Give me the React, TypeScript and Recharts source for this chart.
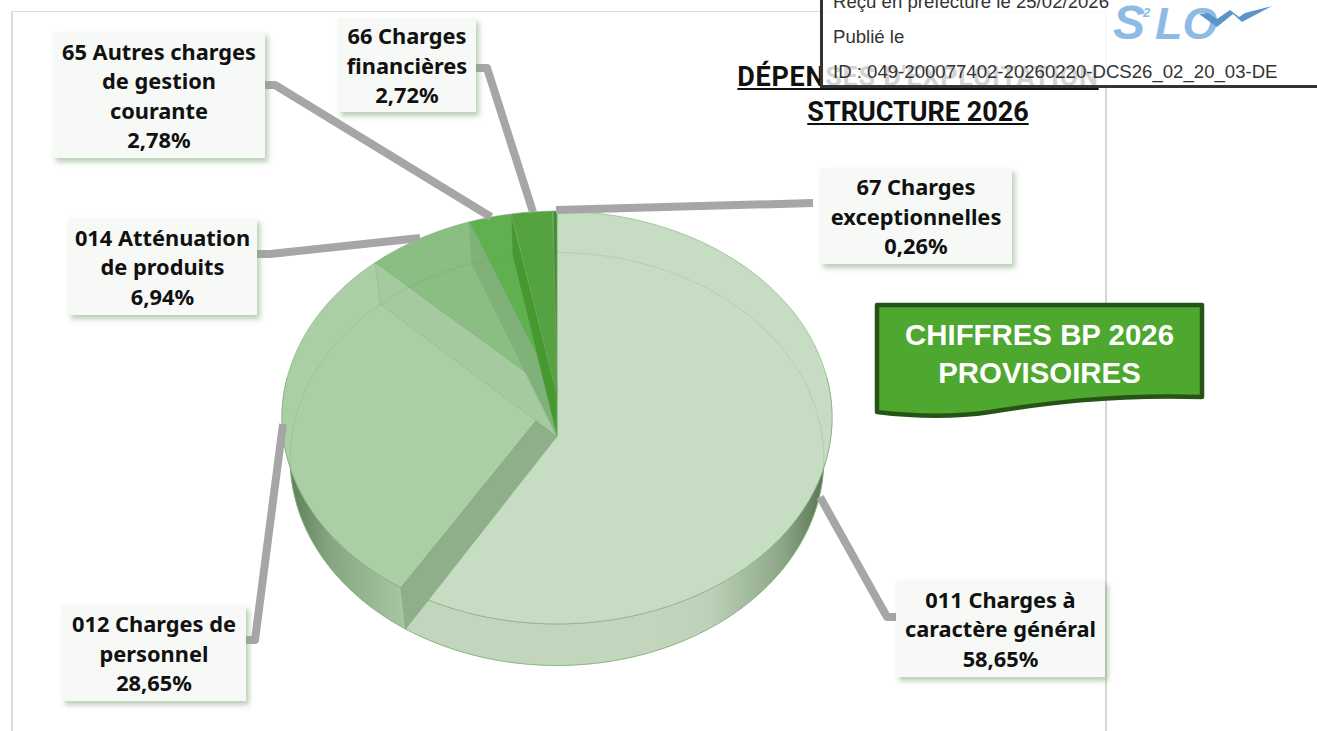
import React from "react";
import { PieChart, Pie } from "recharts";

const categoryNames = [
  ["011 Charges à", "caractère général"],
  ["012 Charges de", "personnel"],
  ["014 Atténuation", "de produits"],
  ["65 Autres charges", "de gestion", "courante"],
  ["66 Charges", "financières"],
  ["67 Charges", "exceptionnelles"],
];
const seriesValues = [58.65, 28.65, 6.94, 2.78, 2.72, 0.26];
const faceColors = ["#c6dcc3", "#abcea6", "#8abe82", "#60b04f", "#55a240", "#3f8f2b"];
const radialWallColors = ["#8fae8a", "#a5caa0", "#7fb278", "#47992f", "#3f8f2b", "#3f8f2b"];
const outerWallFills = ["url(#wall011)", "url(#wall012)", "#7fa87a", "#5c9a4c", "#4e8f3c", "#3d8a2c"];
const chartData = categoryNames.map((lines, i) => ({ name: lines.join(" "), value: seriesValues[i] }));

const labelBoxes = [
  { left: 896, top: 580, width: 209, height: 97 },
  { left: 62, top: 605, width: 184, height: 96 },
  { left: 68, top: 218, width: 189, height: 97 },
  { left: 53, top: 32, width: 212, height: 126 },
  { left: 338, top: 18, width: 138, height: 94 },
  { left: 820, top: 168, width: 192, height: 96 },
];
const leaderLines = [
  "820,497 887,617 896,617",
  "283,424 255,640 246,640",
  "257,254 270,254 420,238",
  "265,85 275,85 491,217",
  "476,68 487,68 533,212",
  "813,203 556,210",
];

const CENTER_X = 557;
const CENTER_Y = 395;
const RADIUS = 273.4;
const DEPTH = 41.5;
const PERSPECTIVE = 0.109;
const TILT = 0.746;
const BOTTOM_NARROW = 0.97;

function project(cx: number, cy: number, r: number, theta: number, drop = 0) {
  const t = (theta * Math.PI) / 180;
  const u = Math.sin(t);
  const v = Math.cos(t);
  const d = 1 + PERSPECTIVE * v;
  const k = drop ? BOTTOM_NARROW : 1;
  return [cx + (k * r * u) / d, cy + drop - (r * TILT * v) / d];
}
function arc(cx: number, cy: number, r: number, a: number, b: number, drop = 0) {
  const n = Math.max(2, Math.ceil(Math.abs(b - a)));
  const pts: string[] = [];
  for (let i = 0; i <= n; i++) {
    const p = project(cx, cy, r, a + ((b - a) * i) / n, drop);
    pts.push(`${p[0].toFixed(2)},${p[1].toFixed(2)}`);
  }
  return pts;
}
const thetas = (p: any) => [90 - p.startAngle, 90 - p.endAngle];

function BottomShape(p: any) {
  const [a, b] = thetas(p);
  const d = `M${p.cx},${p.cy + DEPTH}L${arc(p.cx, p.cy, p.outerRadius, a, b, DEPTH).join("L")}Z`;
  return <path d={d} fill={faceColors[p.index]} stroke="#7fae78" strokeWidth={0.6} />;
}
function WallShape(p: any) {
  const [a0, b0] = thetas(p);
  const a = Math.max(a0, 85);
  const b = Math.min(b0, 275);
  if (b <= a) return <g />;
  const top = arc(p.cx, p.cy, p.outerRadius, a, b);
  const low = arc(p.cx, p.cy, p.outerRadius, b, a, DEPTH);
  return <path d={`M${top.join("L")}L${low.join("L")}Z`} fill={outerWallFills[p.index]} stroke="#86b27f" strokeWidth={0.8} />;
}
function TopShape(p: any) {
  const [a, b] = thetas(p);
  const d = `M${p.cx},${p.cy}L${arc(p.cx, p.cy, p.outerRadius, a, b).join("L")}Z`;
  return <path d={d} fill={faceColors[p.index]} stroke="#7fae78" strokeOpacity={0.75} strokeWidth={0.8} />;
}
function StripShape(p: any) {
  const [, b] = thetas(p);
  if (b >= 359.99) return <g />;
  const rim = project(p.cx, p.cy, p.outerRadius, b);
  const low = project(p.cx, p.cy, p.outerRadius, b, DEPTH);
  const d = `M${p.cx},${p.cy}L${rim[0]},${rim[1]}L${low[0]},${low[1]}L${p.cx},${p.cy + DEPTH}Z`;
  return <path d={d} fill={radialWallColors[p.index]} stroke="#7fae78" strokeOpacity={0.6} strokeWidth={0.6} />;
}
function InnerArcShape(p: any) {
  const [a, b] = thetas(p);
  const pts = arc(p.cx, p.cy, p.outerRadius, a, b, DEPTH).filter((s) => {
    const y = Number(s.split(",")[1]);
    return y < p.cy + DEPTH + 50;
  });
  return <path d={`M${pts.join("L")}`} fill="none" stroke="#4f8f45" strokeOpacity={0.2} strokeWidth={0.8} />;
}

const layers = [BottomShape, WallShape, TopShape, StripShape, InnerArcShape];

const labelFont = "'Noto Sans', sans-serif";
const pct = (v: number) => v.toFixed(2).replace(".", ",") + "%";

export default function App() {
  return (
    <div style={{ position: "absolute", left: 0, top: 0, width: 1317, height: 731, overflow: "hidden", background: "#fff" }}>
      <div style={{ position: "absolute", left: 11, top: 11, width: 1092, height: 730, borderLeft: "2px solid #dcdcdc", borderTop: "1px solid #dcdcdc", borderRight: "2px solid #d6d6d6" }} />
      <PieChart width={1317} height={731} style={{ position: "absolute", left: 0, top: 0 }} margin={{ top: 0, right: 0, bottom: 0, left: 0 }}>
        <defs>
          <linearGradient id="wall011" gradientUnits="userSpaceOnUse" x1="826" y1="0" x2="660" y2="0">
            <stop offset="0" stopColor="#56714f" />
            <stop offset="0.25" stopColor="#8aa585" />
            <stop offset="0.7" stopColor="#bdd2b9" />
            <stop offset="1" stopColor="#c2d6be" />
          </linearGradient>
          <linearGradient id="wall012" gradientUnits="userSpaceOnUse" x1="290" y1="0" x2="410" y2="0">
            <stop offset="0" stopColor="#5f7f5b" />
            <stop offset="0.35" stopColor="#86a782" />
            <stop offset="1" stopColor="#a9c9a4" />
          </linearGradient>
        </defs>
        {layers.map((Layer, i) => (
          <Pie
            key={i}
            data={chartData}
            dataKey="value"
            nameKey="name"
            cx={CENTER_X}
            cy={CENTER_Y}
            innerRadius={0}
            outerRadius={RADIUS}
            startAngle={90}
            endAngle={-270}
            paddingAngle={0}
            stroke="none"
            isAnimationActive={false}
            shape={(props: any, index: number) => <Layer {...props} index={index} />}
          />
        ))}
      </PieChart>

      <svg width={1317} height={731} style={{ position: "absolute", left: 0, top: 0, pointerEvents: "none" }}>
        {leaderLines.map((pts, i) => (
          <polyline key={i} points={pts} fill="none" stroke="#a6a6a6" strokeWidth={8} strokeLinejoin="round" />
        ))}
        <path d="M877,305 H1202 V397 C1110,394 1040,404 990,412 C950,418 910,416 877,412 Z" fill="#4ea72e" stroke="#275317" strokeWidth={4.5} strokeLinejoin="round" />
      </svg>

      {labelBoxes.map((b, i) => (
        <div
          key={i}
          style={{
            position: "absolute",
            ...b,
            background: "#f6f9f5",
            boxShadow: "3px 4px 5px rgba(130,170,120,0.55)",
            display: "flex",
            flexDirection: "column",
            alignItems: "center",
            justifyContent: "center",
            fontFamily: labelFont,
            fontWeight: 700,
            fontSize: 21.8,
            lineHeight: "29.5px",
            color: "#111",
            whiteSpace: "nowrap",
            paddingTop: 1,
            boxSizing: "border-box",
          }}
        >
          {categoryNames[i].map((line) => (
            <div key={line}>{line}</div>
          ))}
          <div>{pct(seriesValues[i])}</div>
        </div>
      ))}

      <div style={{ position: "absolute", left: 876, top: 316, width: 327, textAlign: "center", color: "#fff", fontFamily: "'Liberation Sans', sans-serif", fontWeight: 700, fontSize: 29.4, lineHeight: "38px" }}>
        <div>CHIFFRES BP 2026</div>
        <div>PROVISOIRES</div>
      </div>

      <div style={{ position: "absolute", left: 718, top: 60, width: 400, textAlign: "center", fontFamily: "Roboto, sans-serif", fontWeight: 700, fontSize: 27, lineHeight: "35px", color: "#111", textDecoration: "underline" }}>
        <div style={{ letterSpacing: 0.7, whiteSpace: "nowrap" }}>DÉPENSES D'EXPLOITATION</div>
        <div>STRUCTURE 2026</div>
      </div>

      <div style={{ position: "absolute", left: 820, top: -10, width: 500, height: 98, boxSizing: "border-box", borderLeft: "3px solid #333", borderBottom: "3px solid #333", background: "rgba(255,255,255,0.82)", fontFamily: "'Liberation Sans', sans-serif", fontSize: 18.6, color: "#333" }}>
        <div style={{ position: "absolute", left: 10, top: 1, whiteSpace: "nowrap" }}>Reçu en préfecture le 25/02/2026</div>
        <div style={{ position: "absolute", left: 10, top: 36, whiteSpace: "nowrap" }}>Publié le</div>
        <div style={{ position: "absolute", left: 10, top: 71, whiteSpace: "nowrap" }}>ID : 049-200077402-20260220-DCS26_02_20_03-DE</div>
      </div>

      <svg width={180} height={50} style={{ position: "absolute", left: 1105, top: 0 }}>
        <text x={8} y={39} fontFamily="'Liberation Sans', sans-serif" fontStyle="italic" fontWeight={700} fontSize={48} fill="#8dbbe6">S</text>
        <text x={38} y={17} fontFamily="'Liberation Sans', sans-serif" fontStyle="italic" fontWeight={700} fontSize={13} fill="#8dbbe6">2</text>
        <text x={50} y={39} fontFamily="'Liberation Sans', sans-serif" fontStyle="italic" fontWeight={700} fontSize={45} fill="#8dbbe6">LO</text>
        <path d="M94,14 L112,27 L128,14 L137,22 L167,6 L140,13 L134,17 L125,10 L112,19 L103,13 Z" fill="#5d94c8" />
      </svg>
    </div>
  );
}
